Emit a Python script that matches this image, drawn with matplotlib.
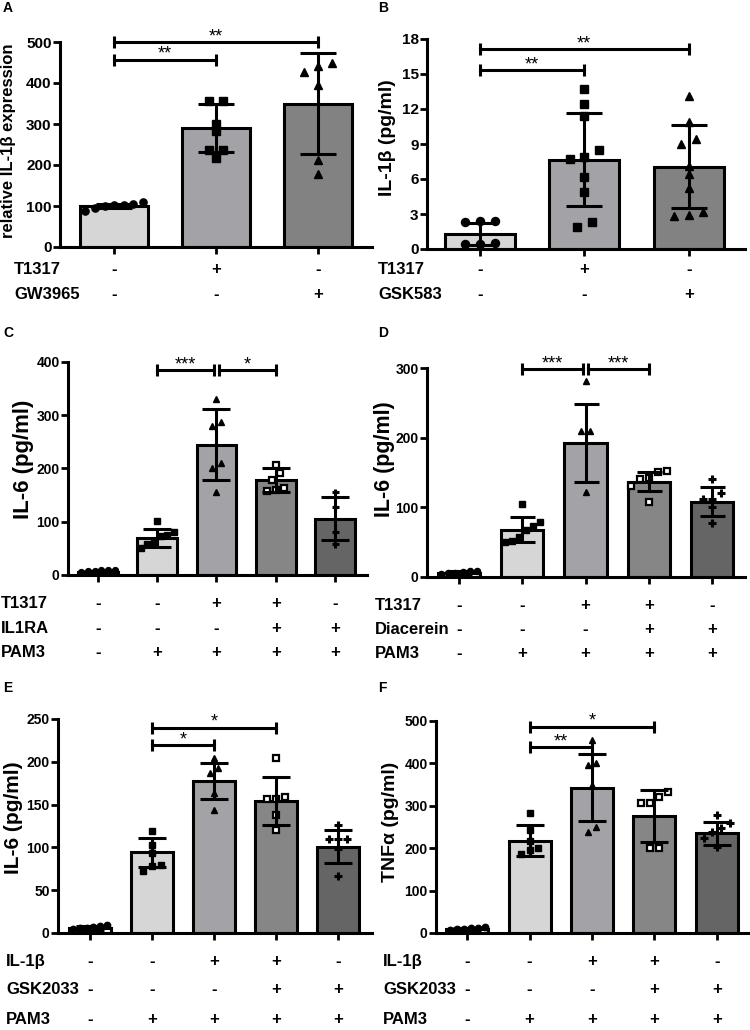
import numpy as np
import matplotlib
matplotlib.use('Agg')
import matplotlib.pyplot as plt
from matplotlib import transforms

plt.rcParams['font.family'] = ['Liberation Sans', 'DejaVu Sans']
plt.rcParams['font.weight'] = 'bold'

W, H = 750, 1030

# ---- data ----
# A: relative IL-1b expression
a_mean = [100, 290, 350]
a_sd = [5, 58, 122]
a_pts = [[96, 109, 104, 103, 88, 100, 102],
         [357, 357, 300, 282, 236, 218, 236],
         [441, 450, 427, 395, 212, 178]]
a_yticks = [0, 100, 200, 300, 400, 500]
a_rows = ['T1317', 'GW3965']
a_signs = [['-', '+', '-'], ['-', '-', '+']]
a_sig = [(0, 1, 457, '**'), (0, 2, 500, '**')]

# B: IL-1b (pg/ml)
b_mean = [1.3, 7.65, 7.05]
b_sd = [0.95, 4.0, 3.55]
b_pts = [[2.4, 2.4, 2.3, 0.4, 0.5, 0.4],
         [13.7, 12.4, 11.4, 8.5, 7.7, 7.9, 6.2, 4.9, 2.3, 1.9],
         [13.1, 10.9, 9.0, 9.4, 7.1, 6.4, 5.2, 2.8, 3.2, 2.9]]
b_yticks = [0, 3, 6, 9, 12, 15, 18]
b_rows = ['T1317', 'GSK583']
b_signs = [['-', '+', '-'], ['-', '-', '+']]
b_sig = [(0, 1, 15.3, '**'), (0, 2, 17.1, '**')]

# C: IL-6, IL1RA
c_mean = [5, 70, 245, 178, 106]
c_sd = [2, 17, 66, 22, 41]
c_pts = [[8, 9, 10, 7, 6, 9],
         [102, 80, 73, 75, 58, 51, 60],
         [330, 287, 279, 210, 200, 155],
         [207, 191, 159, 163, 157, 178],
         [156, 128, 81, 58]]
c_yticks = [0, 100, 200, 300, 400]
c_rows = ['T1317', 'IL1RA', 'PAM3']
c_signs = [['-', '-', '+', '+', '-'], ['-', '-', '-', '+', '+'], ['-', '+', '+', '+', '+']]
c_sig = [(1, 2, 385, '***'), (2, 3, 385, '*')]

# D: IL-6, Diacerein
d_mean = [6, 68, 193, 137, 108]
d_sd = [2, 18, 56, 14, 21]
d_pts = [[5, 7, 8, 6, 9, 6],
         [105, 79, 73, 67, 50, 52, 58],
         [281, 210, 210, 122],
         [142, 151, 140, 108, 130, 152],
         [141, 120, 112, 112, 100, 78]]
d_yticks = [0, 100, 200, 300]
d_rows = ['T1317', 'Diacerein', 'PAM3']
d_signs = [['-', '-', '+', '+', '-'], ['-', '-', '-', '+', '+'], ['-', '+', '+', '+', '+']]
d_sig = [(1, 2, 298, '***'), (2, 3, 298, '***')]

# E: IL-6, GSK2033
e_mean = [6, 94.5, 178, 154.5, 101]
e_sd = [2, 17, 21, 28, 19]
e_pts = [[5, 7, 8, 6, 9, 6],
         [119, 103, 93, 79, 72, 78],
         [204, 193, 187, 163, 144],
         [204, 156, 156, 159, 138, 120],
         [126, 110, 110, 110, 67, 98]]
e_yticks = [0, 50, 100, 150, 200, 250]
e_rows = ['IL-1β', 'GSK2033', 'PAM3']
e_signs = [['-', '-', '+', '+', '-'], ['-', '-', '-', '+', '+'], ['-', '+', '+', '+', '+']]
e_sig = [(1, 2, 220, '*'), (1, 3, 240, '*')]

# F: TNFa, GSK2033
f_mean = [10, 218, 343, 276, 235]
f_sd = [2, 37, 80, 62, 27]
f_pts = [[8, 10, 12, 11, 13, 9],
         [284, 243, 218, 200, 196, 186],
         [455, 400, 396, 349, 251, 239],
         [333, 321, 307, 307, 200, 200],
         [278, 260, 247, 239, 223, 204]]
f_yticks = [0, 100, 200, 300, 400, 500]
f_rows = ['IL-1β', 'GSK2033', 'PAM3']
f_signs = [['-', '-', '+', '+', '-'], ['-', '-', '-', '+', '+'], ['-', '+', '+', '+', '+']]
f_sig = [(1, 2, 439, '**'), (1, 3, 487, '*')]

grays3 = ['#d6d6d6', '#a3a3a7', '#828282']
grays5 = ['#ffffff', '#d6d6d6', '#a3a3a7', '#868686', '#656565']
marks3 = ['o', 's', '^']
marks5 = ['o', 's', '^', 'open', '+']


def spread(vals, thr, dx=0.14, maxw=0.28):
    # simple horizontal spreading of points with close values
    vals = np.asarray(vals, float)
    order = np.argsort(vals)
    offs = np.zeros(len(vals))
    groups = [[order[0]]]
    for i in order[1:]:
        if vals[i] - vals[groups[-1][-1]] < thr:
            groups[-1].append(i)
        else:
            groups.append([i])
    for g in groups:
        k = len(g)
        step = min(dx, 2 * maxw / max(k - 1, 1))
        offs[g] = (np.arange(k) - (k - 1) / 2) * step
    return offs


def panel(fig, rect, xlim, mean, sd, pts, yticks, ylabel, ylab_fs, ylab_xy,
          rows, signs, sig, row_x, row_y, letter, letter_xy, ms, cap, tick_fs):
    ax = fig.add_axes(rect)
    n = len(mean)
    x = np.arange(n)
    colors = grays3 if n == 3 else grays5
    marks = marks3 if n == 3 else marks5
    ymax = yticks[-1]

    ax.bar(x, mean, width=0.67, color=colors, edgecolor='black', linewidth=2.2, zorder=2)
    for i in range(n):
        offs = spread(pts[i], 0.035 * ymax)
        m = marks[i]
        if m == 'open':
            ax.plot(x[i] + offs, pts[i], ls='none', marker='s', ms=ms * 0.9, mfc='white',
                    mec='black', mew=1.6, zorder=3)
        elif m == '+':
            ax.plot(x[i] + offs, pts[i], ls='none', marker='+', ms=ms * 1.2, mec='black',
                    mew=2.2, zorder=3)
        else:
            ax.plot(x[i] + offs, pts[i], ls='none', marker=m, ms=ms, mfc='black',
                    mec='black', zorder=3)
    ax.errorbar(x, mean, yerr=sd, fmt='none', ecolor='black', elinewidth=2.2,
                capsize=cap, capthick=2.2, zorder=4)

    # significance brackets
    ends = {}
    for i, j, y, s in sig:
        ends[(i, y)] = ends.get((i, y), 0) + 1
        ends[(j, y)] = ends.get((j, y), 0) + 1
    for i, j, y, s in sig:
        x1 = i + (0.045 if ends[(i, y)] > 1 else 0)
        x2 = j - (0.045 if ends[(j, y)] > 1 else 0)
        ax.plot([x1, x2], [y, y], color='black', lw=2.2, marker='|', ms=8, mew=2.2,
                clip_on=False, zorder=6)
        ax.annotate(s, ((x1 + x2) / 2, y), xytext=(0, 0.5), textcoords='offset points',
                    ha='center', va='baseline', fontsize=13, fontweight='normal')

    ax.set_xlim(*xlim)
    ax.set_ylim(0, ymax)
    ax.set_yticks(yticks)
    ax.set_yticklabels([str(t) for t in yticks], fontsize=tick_fs, fontweight='bold')
    ax.set_xticks(x)
    ax.set_xticklabels([])
    ax.tick_params(axis='y', length=5, width=2, pad=1)
    ax.tick_params(axis='x', length=5, width=2)
    for side in ['top', 'right']:
        ax.spines[side].set_visible(False)
    for side in ['left', 'bottom']:
        ax.spines[side].set_linewidth(2.2)
    ax.set_ylabel(ylabel, fontsize=ylab_fs, fontweight='bold')
    ax.yaxis.set_label_coords(*ylab_xy)

    # treatment table under the axis
    trans = transforms.blended_transform_factory(ax.transData, fig.transFigure)
    for r, lab in enumerate(rows):
        yb = 1 - (row_y[r] + 6) / H
        fig.text(row_x / W, yb, lab, ha='left', va='baseline', fontsize=12, fontweight='bold')
        for i in range(n):
            ax.text(x[i], yb, signs[r][i], transform=trans, ha='center', va='baseline',
                    fontsize=12, fontweight='bold')

    fig.text(letter_xy[0] / W, 1 - letter_xy[1] / H, letter, ha='left', va='center',
             fontsize=10, fontweight='bold')
    return ax


def rect(x0, x1, ytop, ybot):
    return [x0 / W, 1 - ybot / H, (x1 - x0) / W, (ybot - ytop) / H]


fig = plt.figure(figsize=(W / 100, H / 100), dpi=100)

panel(fig, rect(60, 372, 42, 247), (-0.53, 2.53), a_mean, a_sd, a_pts, a_yticks,
      'relative IL-1β expression', 12, (-0.141, 0.517), a_rows, a_signs, a_sig,
      14, [268, 293], 'A', (3, 8), 5.2, 13, 11)
panel(fig, rect(427, 745, 39, 249), (-0.507, 2.54), b_mean, b_sd, b_pts, b_yticks,
      'IL-1β (pg/ml)', 14, (-0.097, 0.53), b_rows, b_signs, b_sig,
      378, [268, 293], 'B', (378, 8), 5.8, 13, 11)
panel(fig, rect(68, 367, 362, 575), (-0.506, 4.54), c_mean, c_sd, c_pts, c_yticks,
      'IL-6 (pg/ml)', 16, (-0.114, 0.545), c_rows, c_signs, c_sig,
      1, [602, 627, 651], 'C', (3, 333), 4.2, 10, 10)
panel(fig, rect(427, 745, 368, 577), (-0.506, 4.52), d_mean, d_sd, d_pts, d_yticks,
      'IL-6 (pg/ml)', 15.5, (-0.1, 0.565), d_rows, d_signs, d_sig,
      375, [604, 628, 652], 'D', (378, 333), 4.4, 9, 10)
panel(fig, rect(58, 372, 719, 933), (-0.516, 4.55), e_mean, e_sd, e_pts, e_yticks,
      'IL-6 (pg/ml)', 15, (-0.111, 0.537), e_rows, e_signs, e_sig,
      6, [960, 988, 1018], 'E', (3, 688), 4.6, 10, 10)
panel(fig, rect(436, 748, 721, 933), (-0.5, 4.5), f_mean, f_sd, f_pts, f_yticks,
      'TNFα (pg/ml)', 14, (-0.119, 0.524), f_rows, f_signs, f_sig,
      383, [960, 988, 1018], 'F', (378, 688), 4.6, 10, 10)

fig.savefig('out.png', dpi=100)
